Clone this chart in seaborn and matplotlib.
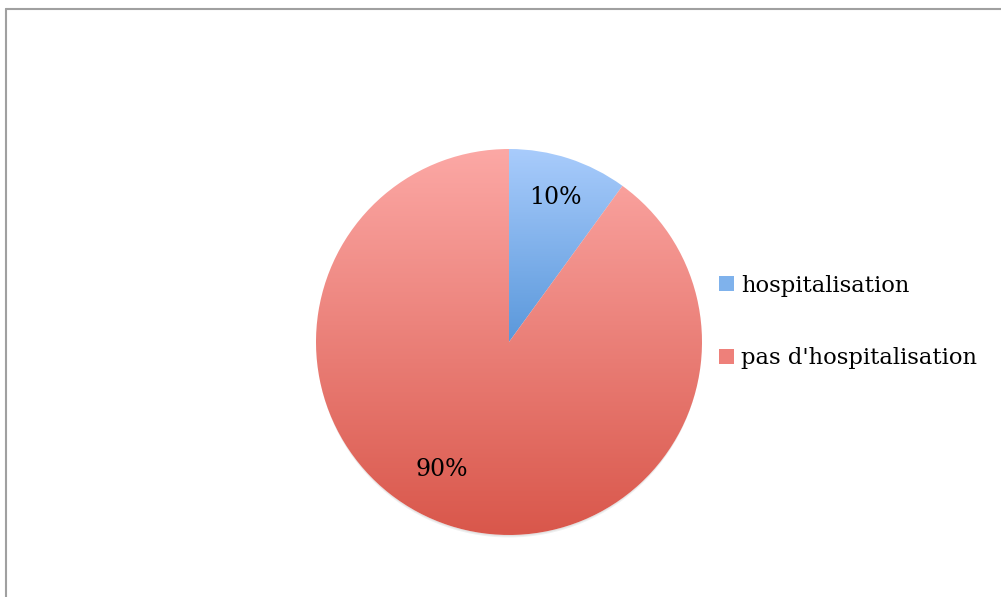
import matplotlib
matplotlib.use("Agg")
import matplotlib.pyplot as plt
import numpy as np
import seaborn as sns
from matplotlib.colors import LinearSegmentedColormap
from matplotlib.lines import Line2D
from matplotlib.patches import Patch, Circle

CATEGORIES = ["hospitalisation", "pas d'hospitalisation"]
SHARES = [10, 90]
TOP_COLORS = ["#A9CCFC", "#FCA8A5"]
BOTTOM_COLORS = ["#5A98DB", "#D9574B"]
MID_COLORS = ["#7FB2EC", "#EE807A"]
LABEL_POS = [(0.24, 0.75), (-0.35, -0.66)]

sns.set_theme(style="white")
plt.rcParams["font.family"] = ["DejaVu Serif"]

fig = plt.figure(figsize=(10.01, 5.97), dpi=100)
fig.patch.set_facecolor("white")

# pie area in figure fraction (center 509,342 px, radius 193 px)
ax = fig.add_axes([316 / 1001, 1 - 535 / 597, 386 / 1001, 386 / 597])
ax.set_axis_off()

# soft shadow under the pie, only peeking out at the bottom
for i, a in enumerate([0.04, 0.05, 0.06]):
    ax.add_patch(Circle((0, -0.006 - 0.006 * i), 0.995,
                        color="black", alpha=a, lw=0, zorder=0, clip_on=False))

wedges, _ = ax.pie(SHARES, startangle=90, counterclock=False, radius=1.0,
                   wedgeprops={"linewidth": 0, "edgecolor": "none"})

grad = np.linspace(0, 1, 256).reshape(-1, 1)
for w, top, bottom in zip(wedges, TOP_COLORS, BOTTOM_COLORS):
    w.set_facecolor("white")
    w.set_zorder(1)
    w.set_clip_on(False)
    ext = w.get_path().get_extents(w.get_transform() + ax.transData.inverted())
    cmap = LinearSegmentedColormap.from_list("g", [bottom, top])
    im = ax.imshow(grad, cmap=cmap, origin="lower", aspect="auto",
                   extent=[-1.05, 1.05, ext.y0, ext.y1], zorder=2)
    im.set_clip_path(w)
ax.set_xlim(-1.0, 1.0)
ax.set_ylim(-1.0, 1.0)

for (x, y), v in zip(LABEL_POS, SHARES):
    ax.text(x, y, f"{v}%", ha="center", va="center", fontsize=17,
            color="black", zorder=3)

handles = [Patch(facecolor=c, edgecolor="none") for c in MID_COLORS]
fig.legend(handles, CATEGORIES, loc="center left",
           bbox_to_anchor=(699 / 1001, 1 - 322 / 597), frameon=False,
           fontsize=16.3, labelcolor="black", handlelength=0.65,
           handleheight=0.65, handletextpad=0.3, labelspacing=2.25)

# chart border (cropped at right and bottom)
fig.add_artist(Line2D([5.5 / 1001, 5.5 / 1001], [-0.1, 1 - 8.5 / 597],
                      color="#A0A0A0", lw=1.5, transform=fig.transFigure))
fig.add_artist(Line2D([5.5 / 1001, 1.1], [1 - 8.5 / 597, 1 - 8.5 / 597],
                      color="#A0A0A0", lw=1.5, transform=fig.transFigure))

fig.savefig("out.png", dpi=100, facecolor="white")
